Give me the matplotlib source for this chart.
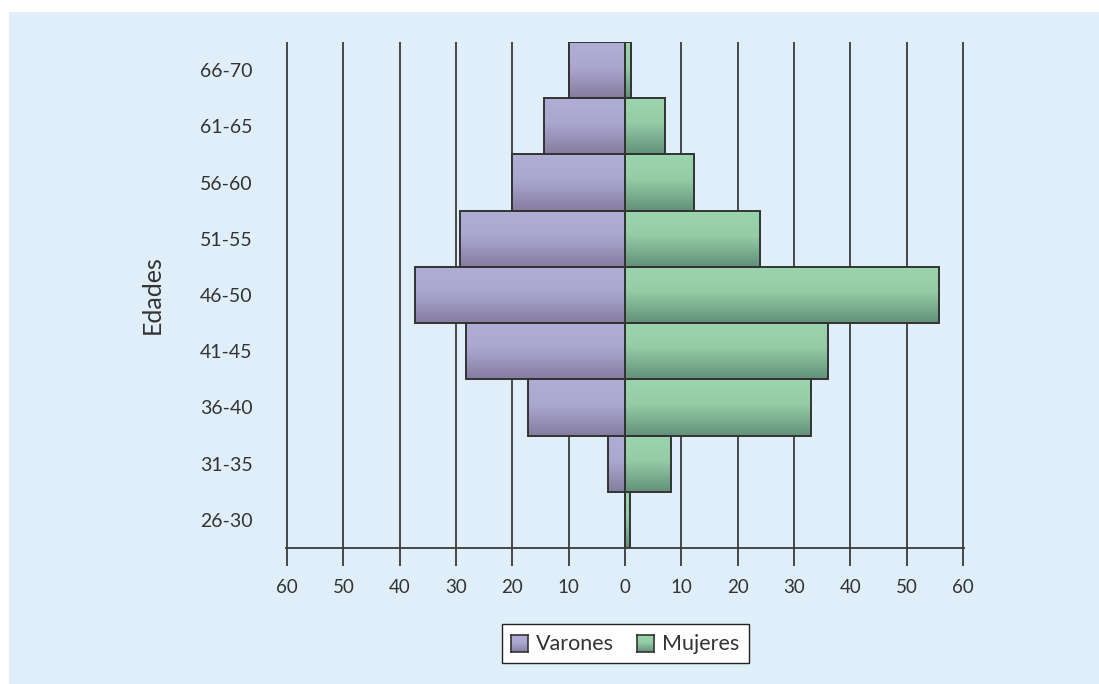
import matplotlib.pyplot as plt
import numpy as np
from matplotlib.colors import LinearSegmentedColormap
from matplotlib.patches import Rectangle

plt.rcParams['font.family'] = ['Lato', 'DejaVu Sans']

edades = ['26-30', '31-35', '36-40', '41-45', '46-50', '51-55', '56-60', '61-65', '66-70']
varones = [0, 3, 17.3, 28.3, 37.3, 29.3, 20, 14.3, 9.9]
mujeres = [0.8, 8.1, 33, 36.1, 55.8, 24, 12.2, 7.1, 1]
ticks = [-60, -50, -40, -30, -20, -10, 0, 10, 20, 30, 40, 50, 60]

bg = '#e0eef9'
text_col = '#333333'

cmap_v = LinearSegmentedColormap.from_list('v', [(0, '#b1aed6'), (0.45, '#aba7d0'), (1, '#857d9f')])
cmap_m = LinearSegmentedColormap.from_list('m', [(0, '#9bd5ad'), (0.45, '#94cca6'), (1, '#62907a')])

fig = plt.figure(figsize=(10.99, 6.84), dpi=100)
fig.patch.set_facecolor('white')
fig.patches.append(Rectangle((9 / 1099, 0), 1, 1 - 12 / 684, transform=fig.transFigure,
                             facecolor=bg, edgecolor='none', zorder=-10))
ax = fig.add_axes([286 / 1099, 1 - 548 / 684, 678 / 1099, 506 / 684])
ax.set_facecolor('none')

grad = np.linspace(0, 1, 256).reshape(-1, 1)
y = np.arange(len(edades))


def gradient_bars(vals, sign, cmap):
    bars = ax.barh(y, [sign * v for v in vals], height=1.0, left=0,
                   facecolor='none', edgecolor='#333333', linewidth=1.4, zorder=3)
    for b in bars:
        x0, y0 = b.get_x(), b.get_y()
        w, h = b.get_width(), b.get_height()
        if abs(w) < 1e-9:
            continue
        im = ax.imshow(grad, cmap=cmap, aspect='auto', origin='upper',
                       extent=(min(x0, x0 + w), max(x0, x0 + w), y0, y0 + h), zorder=2)
        im.set_clip_path(b)
    return bars


gradient_bars(varones, -1, cmap_v)
gradient_bars(mujeres, 1, cmap_m)

ax.set_xlim(-60.2, 60.2)
ax.set_ylim(-0.5, 8.5)
for t in ticks:
    ax.axvline(t, color='#3a3a3a', linewidth=1.3, zorder=1)

ax.set_xticks(ticks)
ax.set_xticklabels([str(abs(t)) for t in ticks], fontsize=13.5, color=text_col)
ax.tick_params(axis='x', length=13, width=1.3, color='#3a3a3a', pad=9)
ax.set_yticks(y)
ax.set_yticklabels(edades, fontsize=14, color=text_col)
ax.tick_params(axis='y', length=0, pad=24)

for s in ['top', 'right', 'left']:
    ax.spines[s].set_visible(False)
ax.spines['bottom'].set_color('#3a3a3a')
ax.spines['bottom'].set_linewidth(1.3)

ax.set_ylabel('Edades', fontsize=18, color=text_col, labelpad=26)

# legend with gradient squares
lx0, ly0, lw, lh = 502 / 1099, 1 - 663 / 684, 247 / 1099, 39 / 684
fig.patches.append(Rectangle((lx0, ly0), lw, lh, transform=fig.transFigure,
                             facecolor='white', edgecolor='#222222', linewidth=1.0, zorder=-5))
for sx, label, cmap in [(511, 'Varones', cmap_v), (637, 'Mujeres', cmap_m)]:
    sax = fig.add_axes([sx / 1099, 1 - 652 / 684, 17 / 1099, 17 / 684])
    sax.imshow(grad, cmap=cmap, aspect='auto')
    sax.set_xticks([])
    sax.set_yticks([])
    for sp in sax.spines.values():
        sp.set_color('#333333')
        sp.set_linewidth(1.2)
    fig.text((sx + 25) / 1099, 1 - 644 / 684, label, fontsize=15.5, color=text_col, va='center')

fig.savefig('out.png', dpi=100, facecolor=fig.get_facecolor())
